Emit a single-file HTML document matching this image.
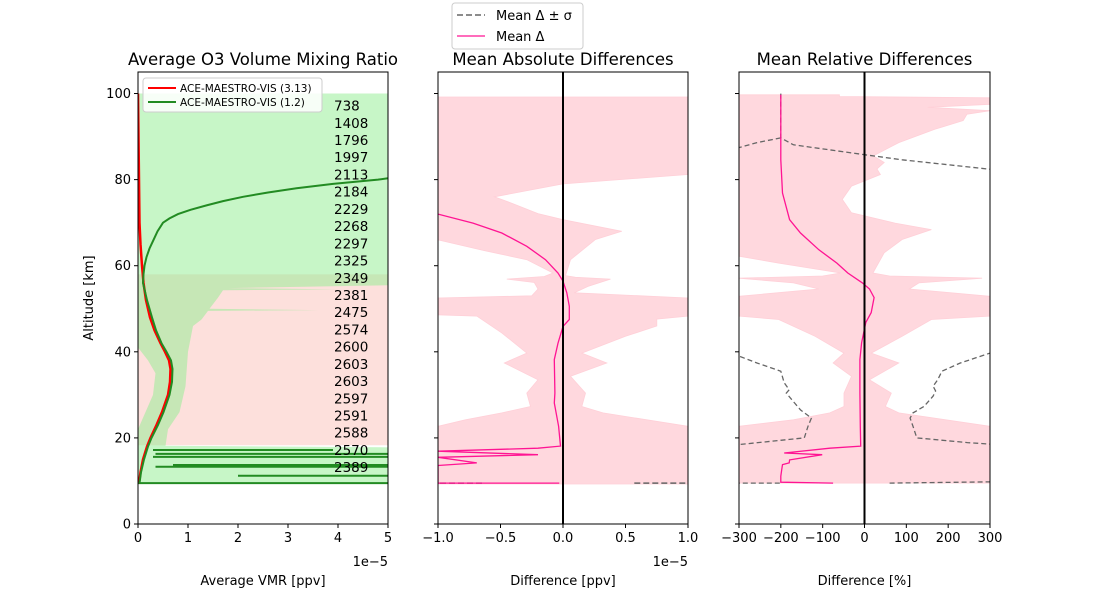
<!DOCTYPE html>
<html><head><meta charset="utf-8">
<style>
html,body{margin:0;padding:0;background:#fff;}
svg{display:block;font-family:"DejaVu Sans","Liberation Sans",sans-serif;}
</style></head>
<body>
<svg id="fig" width="1100" height="600" viewBox="0 0 1100 600" xmlns="http://www.w3.org/2000/svg"></svg>
<script>
// ---------- data ----------
const countLabels=[738,1408,1796,1997,2113,2184,2229,2268,2297,2325,2349,2381,2475,2574,2600,2603,2603,2597,2591,2588,2570,2389];
const countAlts=[97.2,93.2,89.2,85.2,81.2,77.2,73.2,69.2,65.2,61.2,57.2,53.2,49.2,45.2,41.2,37.2,33.2,29.2,25.2,21.2,17.2,13.2];
const redAlt=[9.5,12,15,18,20,23,26,30,33,36,38,40,42,45,48,52,56,60,65,70,80,90,100];
const redVmr=[0.02,0.05,0.1,0.18,0.25,0.37,0.48,0.6,0.64,0.65,0.62,0.54,0.45,0.33,0.24,0.16,0.11,0.08,0.05,0.03,0.02,0.01,0];
const greenAlt=[9.5,12,15,18,20,23,26,30,33,36,38,40,42,45,48,52,56,58,60,62,64,66,68,70,71,72,73,74,75,76,77,78,79,80,80.3];
const greenVmr=[0.03,0.06,0.12,0.2,0.27,0.4,0.51,0.63,0.68,0.69,0.66,0.57,0.47,0.36,0.28,0.18,0.1,0.11,0.13,0.17,0.23,0.31,0.39,0.5,0.63,0.8,1.05,1.37,1.7,2.1,2.6,3.17,3.9,4.8,5];
const spikeAlt=[17.2,16.3,15.6,13.7,13.3,11.2,9.5];
const spikeX0=[0.3,0.35,0.3,0.7,0.35,2.0,0];
const spikeX1=[3.9,5.2,5.2,5.2,5.2,5.2,5.2];
const gEnvAlt=[9.5,17.8,18.2,22,26,32,40,46,47.5,49.5,49.7,50,52.6,54.3,54.5,54.8,55.5,100];
const gEnvR=[5.2,5.2,0.55,0.6,0.83,0.95,1.0,1.1,1.27,1.4,3.6,1.43,1.6,1.7,4.0,1.8,5.2,5.2];
const gEnvLAlt=[9.5,22,26,30,35,38,41,100];
const gEnvL=[0,0,0.15,0.3,0.35,0.2,0,0];
const pEnvAlt=[18.3,58];

const absRAlt=[9.3,22.7,24.2,25.8,27.3,30.4,34.3,37.4,39.7,43.6,46,47.6,48.3,52.5,53.7,55.2,56.9,57.3,57.7,61.4,66.1,68,70.7,72.1,74.4,76,79,81.2,99.2];
const absR=[1,1,0.67,0.32,0.15,0.18,0.06,0.35,0.15,0.5,0.75,0.75,1,1,0.09,0.2,0.38,0.1,0.02,0.06,0.26,0.47,0,-0.2,-0.4,-0.55,0,1,1];
const absLAlt=[9.3,22.7,24.2,25.8,27.3,30.4,33.5,37.4,39.7,44.4,48.3,48.6,52.5,53.0,54.6,56.1,56.9,57.5,58.3,61.4,63.5,66,99.2];
const absL=[-1,-1,-0.78,-0.49,-0.26,-0.29,-0.2,-0.47,-0.29,-0.49,-0.69,-1,-1,-0.25,-0.2,-0.23,-0.45,-0.15,-0.08,-0.29,-0.63,-1,-1];
const absMeanAlt=[9.5,9.5,13.6,14.2,15.5,16.1,16.9,17.6,18.1,22.7,28.1,30.4,38.2,42,45.9,47.5,50.6,53.7,56.4,58.3,61.4,64.5,67.6,69.9,72];
const absMean=[-0.03,-1,-1,-0.69,-1,-0.2,-1,-0.2,-0.02,-0.035,-0.07,-0.065,-0.07,-0.04,0,0.05,0.05,0.03,0,-0.04,-0.14,-0.29,-0.49,-0.72,-1];
const absPlusAlt=[9.5,9.5];
const absPlus=[0.57,1.2];
const absMinusAlt=[9.5,9.5];
const absMinus=[-1.2,-0.63];

const relRAlt=[9.5,22.7,24.2,25.8,27.3,30.4,33.5,37.4,39.7,43.6,47.5,48.3,52.9,54.6,56,57.1,57.6,58.3,63,66.1,68.4,69.9,72.3,75.4,78.5,81.2,82.5,84,85.5,88.6,91.7,93.7,95.2,96,96.8,97.5,99,99.3,99.7];
const relR=[300,300,194,82,50,64,12,82,16,90,160,300,300,107,130,281,60,20,47,90,160,73,-31,-53,-31,38,30,47,21,82,168,236,245,300,151,300,300,-60,-60];
const relLAlt=[9.5,22.7,24.2,25.8,27.3,30.4,34.3,37.4,39.7,43.6,47.5,48.3,52.9,54.6,56,57.1,57.6,58.3,60.6,62.2,99.7];
const relL=[-300,-300,-170,-83,-49,-49,-31,-75,-49,-118,-205,-300,-300,-109,-170,-300,-100,-57,-205,-300,-300];
const relMeanAlt=[9.5,9.7,11.1,12.6,13.8,14.2,14.9,16.1,16.5,17.6,18.1,22.7,30.4,38.2,42.1,46.8,49.1,52.6,54.6,56,58.3,60.6,63.7,67.6,70.7,76.9,84.6,99.7];
const relMean=[-75,-200,-200,-198,-196,-180,-179,-101,-192,-83,-9,-10,-11,-11,-7,3,16,23,12,-5,-40,-66,-109,-153,-179,-196,-200,-200];
const relPlusLowAlt=[9.5,9.8];
const relPlusLow=[60,310];
const relPlusMidAlt=[18.5,18.9,20,22.7,24.6,25.8,27.3,29.7,30.9,32,33.5,35.5,37.4,39.7];
const relPlusMid=[310,246,125,116,109,116,142,164,170,164,175,185,229,300];
const relPlusTopAlt=[82.3,84.6,85.8,88.1,89.7,100];
const relPlusTop=[310,90,0,-170,-200,-200];
const relMinusLowAlt=[9.5,9.5];
const relMinusLow=[-310,-200];
const relMinusMidAlt=[18.5,20,22.7,24.6,26.5,28.9,30.4,31.2,32.8,35.5,37.4,39.2];
const relMinusMid=[-296,-144,-135,-127,-153,-174,-187,-180,-192,-200,-257,-305];
const relMinusTopAlt=[87.3,88.6,89.7];
const relMinusTop=[-305,-257,-200];

const yTicks=[0,20,40,60,80,100];
const p1Ticks=[0,1,2,3,4,5];
const p2Ticks=[-1,-0.5,0,0.5,1];
const p2TickLabels=["\u22121.0","\u22120.5","0.0","0.5","1.0"];
const p3Ticks=[-300,-200,-100,0,100,200,300];
const p3TickLabels=["\u2212300","\u2212200","\u2212100","0","100","200","300"];

// ---------- helpers ----------
const NS="http://www.w3.org/2000/svg";
const svg=document.getElementById('fig');
const TOP=72,BOT=524;
function yA(a){return BOT-(a/105)*(BOT-TOP);}
function mk(tag,attrs,parent){const e=document.createElementNS(NS,tag);for(const k in attrs)e.setAttribute(k,attrs[k]);(parent||svg).appendChild(e);return e;}
function sx(p,v){return p.x0+(v-p.min)/(p.max-p.min)*(p.x1-p.x0);}
function linePts(p,alts,vals){return alts.map((a,i)=>sx(p,vals[i]).toFixed(1)+','+yA(a).toFixed(1)).join(' ');}
function envPts(p,rAlt,rV,lAlt,lV){
  const a=rAlt.map((al,i)=>sx(p,rV[i]).toFixed(1)+','+yA(al).toFixed(1));
  const b=[];for(let i=lAlt.length-1;i>=0;i--)b.push(sx(p,lV[i]).toFixed(1)+','+yA(lAlt[i]).toFixed(1));
  return a.concat(b).join(' ');
}
const P1={x0:138,x1:388,min:0,max:5,id:'p1'};
const P2={x0:438,x1:688,min:-1,max:1,id:'p2'};
const P3={x0:739,x1:990,min:-300,max:300,id:'p3'};
const defs=mk('defs',{});
[P1,P2,P3].forEach(p=>{const c=mk('clipPath',{id:'clip'+p.id},defs);mk('rect',{x:p.x0,y:TOP,width:p.x1-p.x0,height:BOT-TOP},c);});

// ---------- panel 1 ----------
const g1=mk('g',{'clip-path':'url(#clipp1)'});


const pinkEnv=mk('rect',{x:P1.x0,y:yA(pEnvAlt[1]),width:P1.x1-P1.x0,height:yA(pEnvAlt[0])-yA(pEnvAlt[1]),fill:'#fde0dc'},g1);


const greenEnv=mk('polygon',{points:envPts(P1,gEnvAlt,gEnvR,gEnvLAlt,gEnvL),fill:'#90ee90','fill-opacity':0.5},g1);


spikeAlt.forEach((a,i)=>{
  const s=mk('line',{x1:sx(P1,spikeX0[i]),x2:sx(P1,spikeX1[i]),y1:yA(a),y2:yA(a),stroke:'#228b22','stroke-width':2},g1);
  
  
});
const redLine=mk('polyline',{points:linePts(P1,redAlt,redVmr),fill:'none',stroke:'#ff0000','stroke-width':2.5},g1);


const greenLine=mk('polyline',{points:linePts(P1,greenAlt,greenVmr),fill:'none',stroke:'#228b22','stroke-width':2},g1);


countLabels.forEach((c,i)=>{
  const t=mk('text',{x:334,y:yA(countAlts[i])+5,'font-size':13.5,fill:'#000'});
  t.textContent=c;
  
  
});

// ---------- panel 2 ----------
const g2=mk('g',{'clip-path':'url(#clipp2)'});


const absEnv=mk('polygon',{points:envPts(P2,absRAlt,absR,absLAlt,absL),fill:'#ffd8de',stroke:'#ffd0d8','stroke-width':0.8},g2);


const absP=mk('polyline',{points:linePts(P2,absPlusAlt,absPlus),fill:'none',stroke:'#666','stroke-width':1.5,'stroke-dasharray':'6,3'},g2);


const absM=mk('polyline',{points:linePts(P2,absMinusAlt,absMinus),fill:'none',stroke:'#8a4a6a','stroke-width':1.5,'stroke-dasharray':'6,3'},g2);


const absMl=mk('polyline',{points:linePts(P2,absMeanAlt,absMean),fill:'none',stroke:'#ff1493','stroke-width':1.3},g2);


const z2=mk('line',{x1:sx(P2,0),x2:sx(P2,0),y1:TOP,y2:BOT,stroke:'#000','stroke-width':2});



// ---------- panel 3 ----------
const g3=mk('g',{'clip-path':'url(#clipp3)'});


const relEnv=mk('polygon',{points:envPts(P3,relRAlt,relR,relLAlt,relL),fill:'#ffd8de',stroke:'#ffd0d8','stroke-width':0.8},g3);


[[relPlusLowAlt,relPlusLow],[relPlusMidAlt,relPlusMid],[relPlusTopAlt,relPlusTop]].forEach(s=>{
  const l=mk('polyline',{points:linePts(P3,s[0],s[1]),fill:'none',stroke:'#666','stroke-width':1.3,'stroke-dasharray':'5,3'},g3);
  
  
});
[[relMinusLowAlt,relMinusLow],[relMinusMidAlt,relMinusMid],[relMinusTopAlt,relMinusTop]].forEach(s=>{
  const l=mk('polyline',{points:linePts(P3,s[0],s[1]),fill:'none',stroke:'#666','stroke-width':1.3,'stroke-dasharray':'5,3'},g3);
  
  
});
const relMl=mk('polyline',{points:linePts(P3,relMeanAlt,relMean),fill:'none',stroke:'#ff1493','stroke-width':1.3},g3);


const z3=mk('line',{x1:sx(P3,0),x2:sx(P3,0),y1:TOP,y2:BOT,stroke:'#000','stroke-width':2});



// ---------- axes ----------
function axes(p,ticks,labels,title,xlabel,showY,offset){
  const r=mk('rect',{x:p.x0,y:TOP,width:p.x1-p.x0,height:BOT-TOP,fill:'none',stroke:'#000','stroke-width':1});
  
  
  ticks.forEach((t,i)=>{
    const x=sx(p,t);
    const tk=mk('line',{x1:x,x2:x,y1:BOT,y2:BOT+4,stroke:'#000'});
    
    
    const tl=mk('text',{x:x,y:BOT+18,'font-size':13,'text-anchor':'middle'});
    tl.textContent=labels[i];
    
    
  });
  yTicks.forEach(v=>{
    const y=yA(v);
    const tk=mk('line',{x1:p.x0-4,x2:p.x0,y1:y,y2:y,stroke:'#000'});
    
    
    if(showY){
      const tl=mk('text',{x:p.x0-7,y:y+4.5,'font-size':13,'text-anchor':'end'});
      tl.textContent=v;
      
      
    }
  });
  const tt=mk('text',{x:(p.x0+p.x1)/2,y:65,'font-size':16.5,'text-anchor':'middle'});
  tt.textContent=title;
  
  
  const xl=mk('text',{x:(p.x0+p.x1)/2,y:585,'font-size':13,'text-anchor':'middle'});
  xl.textContent=xlabel;
  
  
  if(offset){
    const o=mk('text',{x:p.x1,y:566,'font-size':13,'text-anchor':'end'});
    o.textContent='1e\u22125';
    
    
  }
}
axes(P1,p1Ticks,p1Ticks.map(String),'Average O3 Volume Mixing Ratio','Average VMR [ppv]',true,true);
axes(P2,p2Ticks,p2TickLabels,'Mean Absolute Differences','Difference [ppv]',false,true);
axes(P3,p3Ticks,p3TickLabels,'Mean Relative Differences','Difference [%]',false,false);
const yl=mk('text',{x:0,y:0,'font-size':13,'text-anchor':'middle',transform:'translate(93,298) rotate(-90)'});
yl.textContent='Altitude [km]';



// ---------- legends ----------
const lg1=mk('g',{});


mk('rect',{x:143,y:78,width:179,height:34,rx:3,fill:'#fff','fill-opacity':0.85,stroke:'#ccc'},lg1);
const le1=mk('line',{x1:148,x2:176,y1:88,y2:88,stroke:'#ff0000','stroke-width':2},lg1);


const lt1=mk('text',{x:180,y:92,'font-size':10.5},lg1);
lt1.textContent='ACE-MAESTRO-VIS (3.13)';


const le2=mk('line',{x1:148,x2:176,y1:102,y2:102,stroke:'#228b22','stroke-width':2},lg1);


const lt2=mk('text',{x:180,y:106,'font-size':10.5},lg1);
lt2.textContent='ACE-MAESTRO-VIS (1.2)';



const lg2=mk('g',{});


mk('rect',{x:452,y:3,width:131,height:46,rx:3,fill:'#fff',stroke:'#ccc'},lg2);
const le3=mk('line',{x1:457,x2:485,y1:15,y2:15,stroke:'#666','stroke-width':1.5,'stroke-dasharray':'6,3'},lg2);


const lt3=mk('text',{x:496,y:20,'font-size':13},lg2);
lt3.textContent='Mean \u0394 \u00b1 \u03c3';


const le4=mk('line',{x1:457,x2:485,y1:36,y2:36,stroke:'#ff1493','stroke-width':1.3},lg2);


const lt4=mk('text',{x:496,y:41,'font-size':13},lg2);
lt4.textContent='Mean \u0394';


</script>
</body></html>
